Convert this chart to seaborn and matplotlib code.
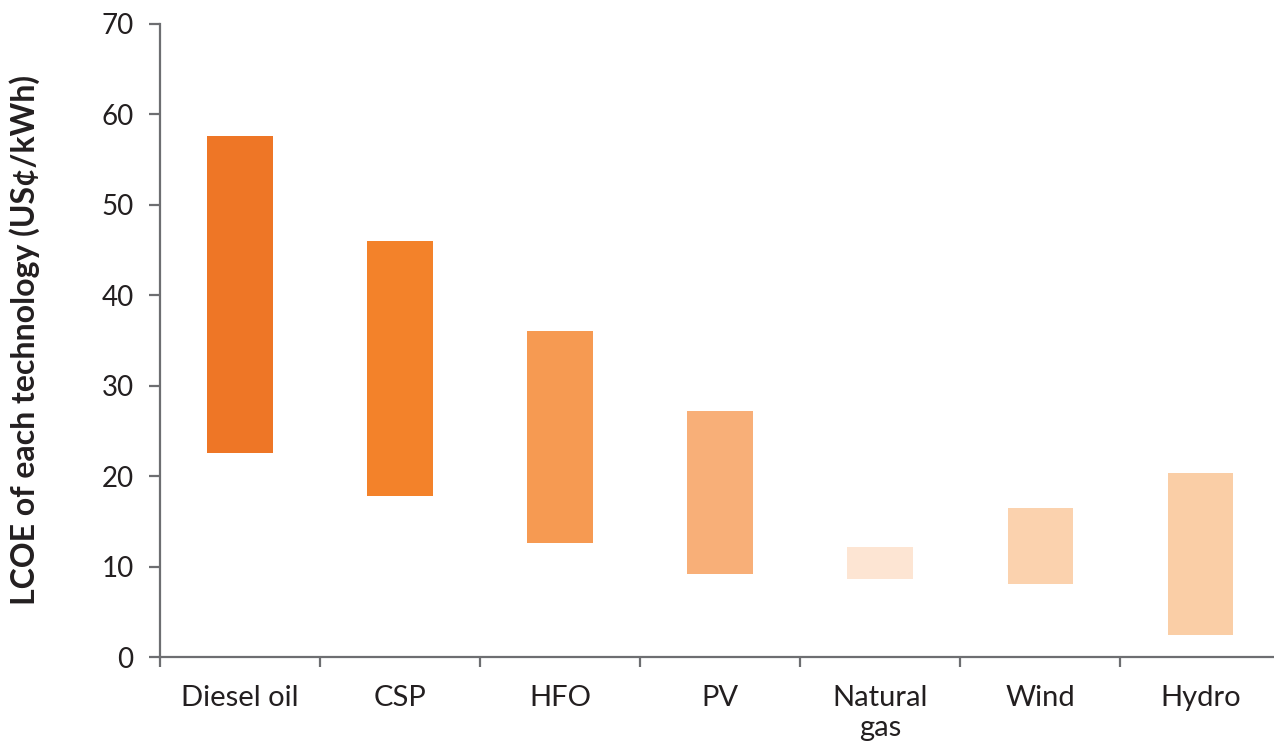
import numpy as np
import pandas as pd
import matplotlib
matplotlib.use("Agg")
import matplotlib.pyplot as plt
import seaborn as sns

# LCOE ranges (US cents / kWh)
tech = ["Diesel oil", "CSP", "HFO", "PV", "Natural\ngas", "Wind", "Hydro"]
low = [22.6, 17.8, 12.6, 9.2, 8.6, 8.1, 2.4]
high = [57.6, 46.0, 36.0, 27.2, 12.2, 16.5, 20.3]
colors = ["#EE7626", "#F3822A", "#F69A52", "#F8AF78", "#FDE5D3", "#FBD2AE", "#FACEA6"]

df = pd.DataFrame({"tech": tech, "low": low, "high": high})
df["span"] = df["high"] - df["low"]

sns.set_style("white")
plt.rcParams["font.family"] = ["Lato", "DejaVu Sans"]

fig = plt.figure(figsize=(12.74, 7.49), dpi=100)
ax = fig.add_axes([0.1256, 0.1228, 0.8744, 0.8452])

sns.barplot(data=df, x="tech", y="span", bottom=df["low"].values, width=0.41,
            color=colors[0], ax=ax, saturation=1)
for p, c in zip(ax.patches, colors):
    p.set_facecolor(c)
    p.set_edgecolor("none")

ax.set_ylim(0, 70)
ax.set_xlim(-0.5, 6.46)
ax.set_yticks(range(0, 71, 10))
ax.set_xticks(np.arange(-0.5, 6.5, 1), minor=False)
ax.set_xticklabels([])
ax.set_xticks(range(len(tech)), minor=True)
ax.set_xticklabels(tech, minor=True)

spine_c = "#6D6E71"
text_c = "#231F20"
for s in ["top", "right"]:
    ax.spines[s].set_visible(False)
for s in ["left", "bottom"]:
    ax.spines[s].set_color(spine_c)
    ax.spines[s].set_linewidth(1.6)

ax.tick_params(axis="y", which="major", direction="out", length=8, width=1.6,
               color=spine_c, pad=11, labelsize=20, labelcolor=text_c, left=True)
ax.tick_params(axis="x", which="major", direction="out", length=7, width=1.6,
               color=spine_c, bottom=True)
ax.tick_params(axis="x", which="minor", length=0, pad=20, labelsize=21,
               labelcolor=text_c)

ax.set_xlabel("")
ax.set_ylabel("LCOE of each technology (US¢/kWh)", fontsize=23, fontweight="bold",
              color=text_c, labelpad=44)

fig.savefig("out.png", dpi=100)
